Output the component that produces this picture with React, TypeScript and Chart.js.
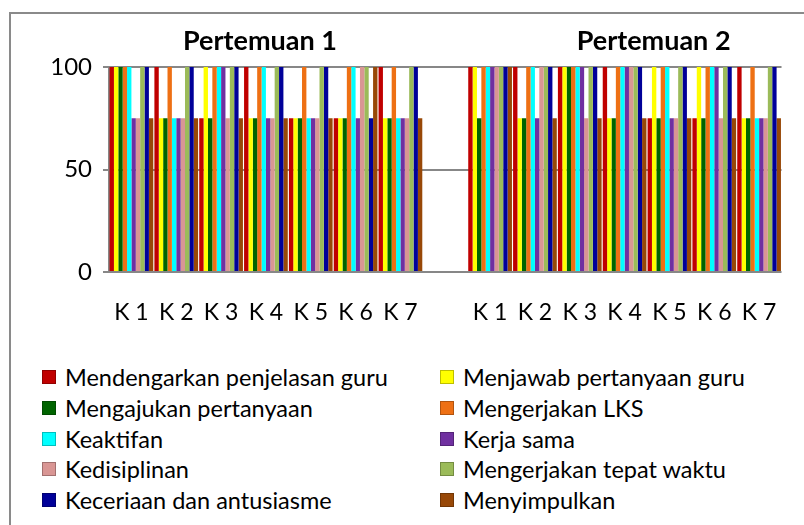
import React, { useEffect, useRef } from "react";
import { Chart, registerables } from "chart.js";

Chart.register(...registerables);

// ---- data ----
const groupTitles = ["Pertemuan 1", "Pertemuan 2"];
const classLabels = ["K 1", "K 2", "K 3", "K 4", "K 5", "K 6", "K 7"];
const yTickValues = [0, 50, 100];

const seriesNames = [
  "Mendengarkan penjelasan guru",
  "Menjawab pertanyaan guru",
  "Mengajukan pertanyaan",
  "Mengerjakan LKS",
  "Keaktifan",
  "Kerja sama",
  "Kedisiplinan",
  "Mengerjakan tepat waktu",
  "Keceriaan dan antusiasme",
  "Menyimpulkan",
];
const seriesColors = [
  "#C00000",
  "#FFFF00",
  "#006400",
  "#EE7014",
  "#00FFFF",
  "#7030A0",
  "#D99694",
  "#9BBB59",
  "#000099",
  "#984807",
];

// first 7 values: Pertemuan 1 (K1..K7), last 7: Pertemuan 2 (K1..K7)
const mendengarkan = [100, 100, 75, 100, 75, 75, 100, 100, 100, 100, 100, 75, 75, 100];
const menjawab = [100, 75, 100, 75, 75, 75, 75, 100, 75, 100, 75, 100, 100, 75];
const mengajukan = [100, 75, 75, 75, 75, 75, 75, 75, 75, 100, 75, 75, 75, 75];
const lks = [100, 100, 100, 100, 100, 100, 100, 100, 100, 100, 100, 100, 100, 100];
const keaktifan = [100, 75, 100, 100, 75, 100, 75, 100, 100, 100, 100, 100, 100, 75];
const kerjaSama = [75, 75, 100, 75, 75, 75, 75, 100, 75, 100, 100, 75, 100, 75];
const kedisiplinan = [75, 75, 75, 75, 75, 100, 75, 100, 100, 75, 100, 75, 75, 75];
const tepatWaktu = [100, 100, 100, 100, 100, 100, 100, 100, 100, 100, 100, 100, 100, 100];
const keceriaan = [100, 100, 100, 100, 100, 75, 100, 100, 100, 100, 100, 100, 100, 100];
const menyimpulkan = [75, 75, 75, 75, 75, 100, 75, 100, 75, 75, 75, 75, 75, 75];

const seriesValues = [
  mendengarkan,
  menjawab,
  mengajukan,
  lks,
  keaktifan,
  kerjaSama,
  kedisiplinan,
  tepatWaktu,
  keceriaan,
  menyimpulkan,
];

const FONT = "Lato";

const categories = [...classLabels, "", ...classLabels];
const withGap = (v: number[]) => [...v.slice(0, 7), null, ...v.slice(7)];

const titlePlugin = {
  id: "groupTitles",
  afterDraw(chart: any) {
    const { ctx, scales } = chart;
    const x = scales.x;
    ctx.save();
    ctx.font = `bold 27px ${FONT}`;
    ctx.fillStyle = "#000";
    ctx.textAlign = "center";
    ctx.textBaseline = "middle";
    const c1 = (x.getPixelForValue(0) + x.getPixelForValue(6)) / 2 - 6;
    const c2 = (x.getPixelForValue(8) + x.getPixelForValue(14)) / 2 + 29;
    ctx.fillText(groupTitles[0], c1, 41);
    ctx.fillText(groupTitles[1], c2, 41);
    ctx.restore();
  },
};

export default function App() {
  const ref = useRef<HTMLCanvasElement | null>(null);

  useEffect(() => {
    if (!ref.current) return;
    const chart = new Chart(ref.current, {
      type: "bar",
      data: {
        labels: categories,
        datasets: seriesNames.map((name, i) => ({
          label: name,
          data: withGap(seriesValues[i]),
          backgroundColor: seriesColors[i],
          borderWidth: 0,
          barPercentage: 1,
          categoryPercentage: 0.975,
        })),
      },
      options: {
        responsive: false,
        animation: false,
        devicePixelRatio: 1,
        layout: { padding: { left: 9, right: 20, top: 67, bottom: 13 } },
        plugins: {
          legend: { display: false },
          title: { display: false },
          tooltip: { enabled: false },
        },
        scales: {
          x: {
            grid: { display: false, drawTicks: false },
            border: { display: false },
            ticks: {
              color: "#000",
              font: { family: FONT, size: 23 },
              padding: 27,
              maxRotation: 0,
              autoSkip: false,
            },
            afterFit: (s: any) => {
              s.height = 60;
            },
          },
          y: {
            min: 0,
            max: 100,
            afterBuildTicks: (s: any) => {
              s.ticks = yTickValues.map((v) => ({ value: v }));
            },
            grid: {
              color: "#878787",
              lineWidth: 2,
              drawTicks: true,
              tickLength: 6,
            },
            border: { display: true, color: "#878787", width: 2 },
            ticks: {
              color: "#000",
              font: { family: FONT, size: 24 },
              padding: 11,
            },
            afterFit: (s: any) => {
              s.width = 100;
            },
          },
        },
      },
      plugins: [titlePlugin],
    });
    return () => chart.destroy();
  }, []);

  return (
    <div
      style={{
        position: "fixed",
        left: 0,
        top: 0,
        width: 804,
        height: 525,
        background: "#fff",
        overflow: "hidden",
        fontFamily: FONT,
      }}
    >
      <div
        style={{
          position: "absolute",
          left: 9,
          top: 12,
          width: 820,
          height: 600,
          border: "2px solid #8a8a8a",
          boxSizing: "border-box",
        }}
      />
      <canvas
        ref={ref}
        width={804}
        height={345}
        style={{ position: "absolute", left: 0, top: 0, width: 804, height: 345 }}
      />
      {seriesNames.map((name, i) => {
        const col = i % 2;
        const row = Math.floor(i / 2);
        const left = col === 0 ? 42 : 440;
        const cy = 377 + row * 30.8;
        return (
          <div
            key={name}
            style={{
              position: "absolute",
              left,
              top: cy - 15,
              height: 30,
              display: "flex",
              alignItems: "center",
              whiteSpace: "nowrap",
            }}
          >
            <span
              style={{
                display: "inline-block",
                width: 14,
                height: 14,
                background: seriesColors[i],
                boxShadow: "inset 0 0 0 1px rgba(0,0,0,0.25)",
                marginRight: 9,
              }}
            />
            <span style={{ fontSize: 23.5, color: "#000", lineHeight: "30px" }}>{name}</span>
          </div>
        );
      })}
    </div>
  );
}
